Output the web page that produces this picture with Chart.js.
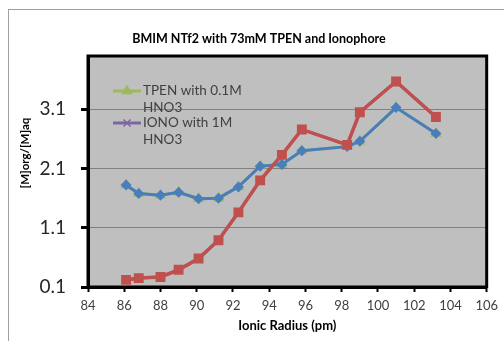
<!DOCTYPE html>
<html>
<head>
<meta charset="utf-8">
<script src="https://cdn.jsdelivr.net/npm/chart.js@4/dist/chart.umd.min.js"></script>
<style>
  html, body { margin: 0; padding: 0; background: #fff; overflow: hidden; }
  #wrap { position: relative; width: 504px; height: 341px; }
  #frame { position: absolute; left: 8px; top: 9px; width: 600px; height: 600px; border: 1px solid #a0a0a0; }
  canvas { position: absolute; left: 0; top: 0; }
</style>
</head>
<body>
<div id="wrap">
  <div id="frame"></div>
  <canvas id="lineChart" width="504" height="341"></canvas>
</div>
<script>
"use strict";

// ionic radius (pm) of each lanthanide measured
const radius = [86.1, 86.8, 88.0, 89.0, 90.1, 91.2, 92.3, 93.5, 94.7, 95.8, 98.3, 99.0, 101.0, 103.2];
// distribution ratio [M]org/[M]aq
const tpenValues = [1.82, 1.68, 1.65, 1.70, 1.59, 1.60, 1.79, 2.14, 2.17, 2.40, 2.47, 2.56, 3.13, 2.69];
const ionoValues = [0.22, 0.25, 0.27, 0.39, 0.58, 0.89, 1.36, 1.90, 2.33, 2.76, 2.50, 3.05, 3.57, 2.97];
const yTicks = [0.1, 1.1, 2.1, 3.1];
const legendLabels = [['TPEN with 0.1M', 'HNO3'], ['IONO with 1M', 'HNO3']];
const chartTitle = 'BMIM NTf2 with 73mM TPEN and Ionophore';
const yTitle = '[M]org/[M]aq';

const FONT = 'Lato';
const toPoints = vals => vals.map((v, i) => ({ x: radius[i], y: v }));

/**
 * Grey plot area with a black frame, like the Excel original.
 */
const plotFrame = {
    id: 'plotFrame',
    beforeDraw(chart) {
        const { ctx, chartArea: a } = chart;
        ctx.save();
        ctx.fillStyle = '#bfbfbf';
        ctx.fillRect(a.left, a.top, a.right - a.left, a.bottom - a.top);
        ctx.restore();
    },
    beforeDatasetsDraw(chart) {
        const { ctx, chartArea: a } = chart;
        ctx.save();
        ctx.strokeStyle = '#000';
        ctx.lineWidth = 3;
        ctx.strokeRect(a.left, a.top, a.right - a.left, a.bottom - a.top);
        ctx.restore();
    }
};

/**
 * Excel centres the title and the y title on the plot area, not on the canvas,
 * so both are drawn here by hand.
 */
const titles = {
    id: 'titles',
    afterDraw(chart) {
        const ctx = chart.ctx;
        ctx.save();
        ctx.fillStyle = '#000';
        ctx.textAlign = 'center';
        ctx.textBaseline = 'middle';
        ctx.font = 'bold 12.5px ' + FONT;
        ctx.fillText(chartTitle, 259, 39);
        ctx.translate(25, 153);
        ctx.rotate(-Math.PI / 2);
        ctx.font = 'bold 11.5px ' + FONT;
        ctx.fillText(yTitle, 0, 0);
        ctx.restore();
    }
};

/**
 * The legend sits inside the plot area and its labels wrap on two lines.
 * Only the first two series are listed, as in the original.
 */
const insideLegend = {
    id: 'insideLegend',
    afterDraw(chart) {
        const ctx = chart.ctx;
        const x0 = 113, x1 = 141, textX = 143, y0 = 91, itemGap = 32, lineGap = 16.5;
        ctx.save();
        legendLabels.forEach((lines, i) => {
            const ds = chart.data.datasets[i + 2];
            const y = y0 + i * itemGap;
            ctx.strokeStyle = ds.borderColor;
            ctx.lineWidth = 3;
            ctx.beginPath();
            ctx.moveTo(x0, y);
            ctx.lineTo(x1, y);
            ctx.stroke();
            ctx.fillStyle = ds.pointBackgroundColor;
            ctx.strokeStyle = ds.pointBorderColor;
            ctx.lineWidth = 1.5;
            Chart.helpers.drawPoint(ctx, { pointStyle: ds.pointStyle, radius: 5, rotation: 0, borderWidth: 1.5 }, (x0 + x1) / 2, y);
            ctx.fillStyle = '#404040';
            ctx.font = '13.5px ' + FONT;
            ctx.textBaseline = 'middle';
            ctx.textAlign = 'left';
            lines.forEach((t, j) => ctx.fillText(t, textX, y + j * lineGap));
        });
        ctx.restore();
    }
};

const ctx = document.getElementById('lineChart');
new Chart(ctx, {
    type: 'line',
    data: {
        datasets: [
            {
                label: 'IONO',
                data: toPoints(ionoValues),
                borderColor: '#c0504d',
                borderWidth: 3.5,
                pointStyle: 'rect',
                pointRadius: 7,
                pointBackgroundColor: '#c0504d',
                pointBorderColor: '#c0504d',
                pointBorderWidth: 0
            },
            {
                label: 'TPEN',
                data: toPoints(tpenValues),
                borderColor: '#4a7ebb',
                borderWidth: 3,
                pointStyle: 'rectRot',
                pointRadius: 5.5,
                pointBackgroundColor: '#4a7ebb',
                pointBorderColor: '#4a7ebb',
                pointBorderWidth: 0
            },
            {
                label: 'TPEN with 0.1M HNO3',
                data: toPoints(tpenValues),
                borderColor: '#9bbb59',
                borderWidth: 3,
                pointStyle: 'triangle',
                pointRadius: 6.5,
                pointBackgroundColor: '#9bbb59',
                pointBorderColor: '#9bbb59',
                pointBorderWidth: 0
            },
            {
                label: 'IONO with 1M HNO3',
                data: toPoints(ionoValues),
                borderColor: '#8064a2',
                borderWidth: 3,
                pointStyle: 'crossRot',
                pointRadius: 5,
                pointBackgroundColor: '#8064a2',
                pointBorderColor: '#8064a2',
                pointBorderWidth: 1.5
            }
        ]
    },
    options: {
        responsive: false,
        animation: false,
        layout: { padding: { left: 0, right: 14, top: 56, bottom: 0 } },
        plugins: {
            legend: { display: false },
            tooltip: { enabled: false },
            title: { display: false }
        },
        scales: {
            x: {
                type: 'linear',
                min: 84,
                max: 106,
                afterFit: s => { s.height = 54; },
                ticks: {
                    stepSize: 2,
                    autoSkip: false,
                    maxRotation: 0,
                    color: '#404040',
                    font: { family: FONT, size: 13 },
                    padding: 6
                },
                grid: { drawOnChartArea: false, tickColor: '#000', tickLength: 5, tickWidth: 2 },
                border: { color: '#000', width: 3 },
                title: {
                    display: true,
                    text: 'Ionic Radius (pm)',
                    color: '#000',
                    font: { family: FONT, size: 13, weight: 'bold' },
                    padding: { top: 4, bottom: 7 }
                }
            },
            y: {
                min: 0.1,
                max: 4.0,
                afterBuildTicks: s => { s.ticks = yTicks.map(v => ({ value: v })); },
                afterFit: s => { s.width = 88; },
                ticks: {
                    color: '#262626',
                    font: { family: FONT, size: 19 },
                    padding: 15,
                    callback: v => v.toFixed(1)
                },
                grid: { color: '#808080', lineWidth: 1, tickColor: '#000', tickLength: 7, tickWidth: 3 },
                border: { color: '#000', width: 3 }
            }
        }
    },
    plugins: [plotFrame, titles, insideLegend]
});
</script>
</body>
</html>
